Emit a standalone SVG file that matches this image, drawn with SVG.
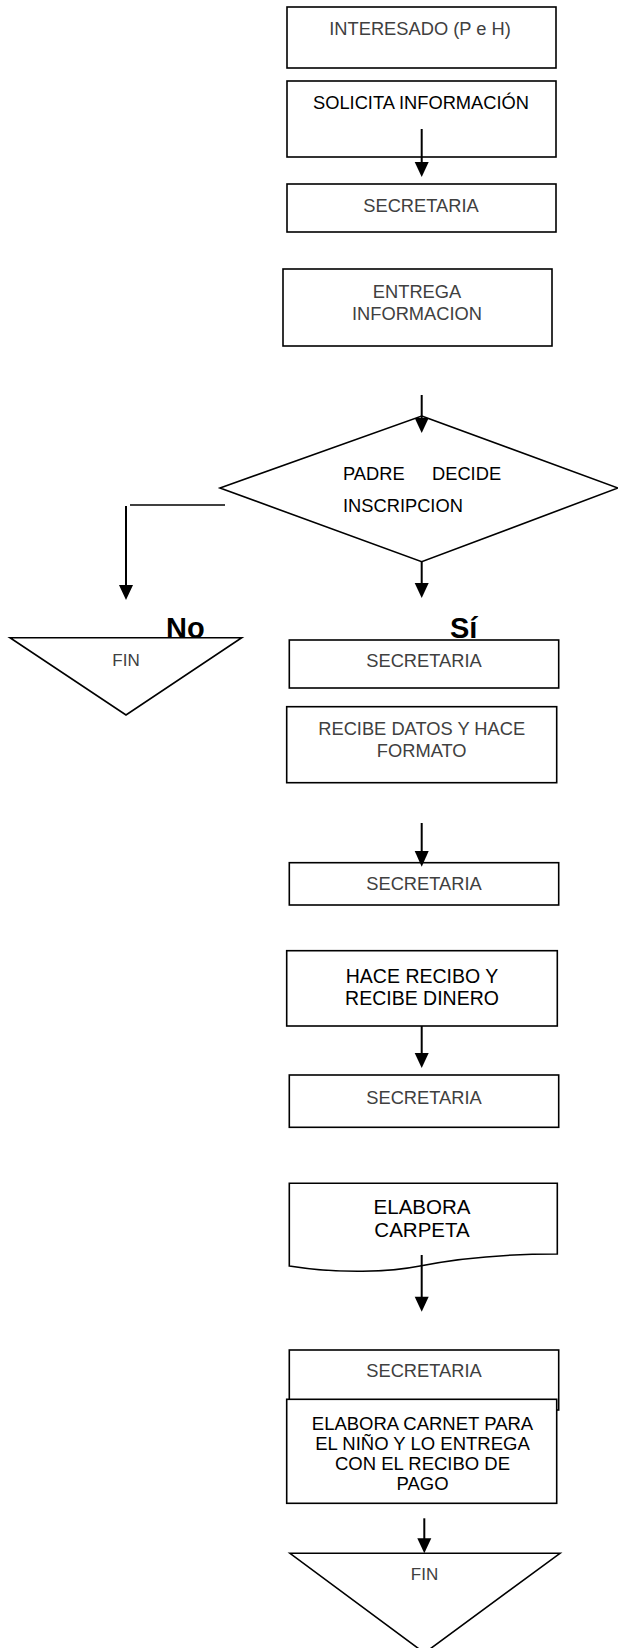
<svg xmlns="http://www.w3.org/2000/svg" width="618" height="1648" viewBox="0 0 618 1648">
<style>
.box{fill:#fff;stroke:#000;stroke-width:1.6}
.t{font-family:"Liberation Sans",Arial,sans-serif;font-size:18.3px;text-anchor:middle}
.g{fill:#404040}
.k{fill:#000}
.b{font-family:"Liberation Sans",Arial,sans-serif;font-size:29px;font-weight:bold;fill:#000}
.ln{fill:none;stroke:#000;stroke-width:2}
.ah{fill:#000;stroke:none}
</style>
<rect width="618" height="1648" fill="#fff"/>
<g id="n1"><rect class="box" x="287" y="7" width="269" height="61"/><text class="t g" x="420" y="35">INTERESADO (P e H)</text></g>
<g id="n2"><rect class="box" x="287" y="81" width="269" height="76"/><text class="t k" x="421" y="109">SOLICITA INFORMACIÓN</text></g>
<g id="n3"><rect class="box" x="287" y="184" width="269" height="48"/><text class="t g" x="421" y="212">SECRETARIA</text></g>
<g id="n4"><rect class="box" x="283" y="269" width="269" height="77"/><text class="t g" x="417" y="298">ENTREGA</text><text class="t g" x="417" y="320">INFORMACION</text></g>
<g id="n5"><polygon class="box" points="421.7,416 618,488 421.7,561.7 220,488"/><text class="t k" x="343" y="480" style="text-anchor:start">PADRE <tspan x="432">DECIDE</tspan></text><text class="t k" x="343" y="512" style="text-anchor:start">INSCRIPCION</text></g>
<g id="n6"><polygon class="box" points="10,637.7 241.7,637.7 126,715"/><text class="t g" x="126" y="666" style="font-size:17px">FIN</text></g>
<g id="n7"><rect class="box" x="289.3" y="640" width="269.4" height="48"/><text class="t g" x="424" y="667">SECRETARIA</text></g>
<g id="n8"><rect class="box" x="286.7" y="706.7" width="270" height="76"/><text class="t g" x="421.7" y="735">RECIBE DATOS Y HACE</text><text class="t g" x="421.7" y="757">FORMATO</text></g>
<g id="n9"><rect class="box" x="289.3" y="862.7" width="269.4" height="42.3"/><text class="t g" x="424" y="890">SECRETARIA</text></g>
<g id="n10"><rect class="box" x="286.7" y="950.7" width="270.6" height="75.3"/><text class="t k" x="422" y="983" style="font-size:19.5px">HACE RECIBO Y</text><text class="t k" x="422" y="1005" style="font-size:19.5px">RECIBE DINERO</text></g>
<g id="n11"><rect class="box" x="289.3" y="1075" width="269.4" height="52.3"/><text class="t g" x="424" y="1104">SECRETARIA</text></g>
<g id="n12"><path class="box" d="M289.3,1183.3 H557.3 V1254 C500,1254 460,1258 420,1266 C390,1272 340,1274 289.3,1266 Z"/><text class="t k" x="422" y="1214" style="font-size:20.5px">ELABORA</text><text class="t k" x="422" y="1237" style="font-size:20.5px">CARPETA</text></g>
<g id="n13"><rect class="box" x="289.3" y="1350" width="269.4" height="60"/><text class="t g" x="424" y="1377">SECRETARIA</text></g>
<g id="n14"><rect class="box" x="286.7" y="1399.3" width="270" height="104"/><text class="t k" x="422.5" y="1430" style="font-size:18.5px">ELABORA CARNET PARA</text><text class="t k" x="422.5" y="1450" style="font-size:18.5px">EL NIÑO Y LO ENTREGA</text><text class="t k" x="422.5" y="1470" style="font-size:18.5px">CON EL RECIBO DE</text><text class="t k" x="422.5" y="1490" style="font-size:18.5px">PAGO</text></g>
<g id="n15"><polygon class="box" points="290,1553.3 560,1553.3 424.5,1653"/><text class="t g" x="424.5" y="1580" style="font-size:17px">FIN</text></g>
<g id="labels"><text class="b" x="166" y="638">No</text><text class="b" x="450" y="638">Sí</text></g>
<g id="connectors">
<line class="ln" x1="421.7" y1="129" x2="421.7" y2="163"/><polygon class="ah" points="414.7,162 428.7,162 421.7,177"/>
<line class="ln" x1="421.7" y1="395" x2="421.7" y2="419"/><polygon class="ah" points="414.7,418 428.7,418 421.7,433"/>
<line class="ln" x1="421.7" y1="561.7" x2="421.7" y2="584"/><polygon class="ah" points="414.7,583 428.7,583 421.7,598"/>
<line class="ln" x1="130" y1="505" x2="225" y2="505" style="stroke-width:1.6"/>
<line class="ln" x1="126" y1="506" x2="126" y2="586"/><polygon class="ah" points="119,585 133,585 126,600"/>
<line class="ln" x1="421.7" y1="823" x2="421.7" y2="852"/><polygon class="ah" points="414.7,851 428.7,851 421.7,866.7"/>
<line class="ln" x1="421.7" y1="1026" x2="421.7" y2="1054"/><polygon class="ah" points="414.7,1053 428.7,1053 421.7,1068"/>
<line class="ln" x1="421.7" y1="1255" x2="421.7" y2="1297"/><polygon class="ah" points="414.7,1296.7 428.7,1296.7 421.7,1311.7"/>
<line class="ln" x1="424.3" y1="1518.3" x2="424.3" y2="1539"/><polygon class="ah" points="417.3,1538.3 431.3,1538.3 424.3,1553.3"/>
</g>
</svg>
